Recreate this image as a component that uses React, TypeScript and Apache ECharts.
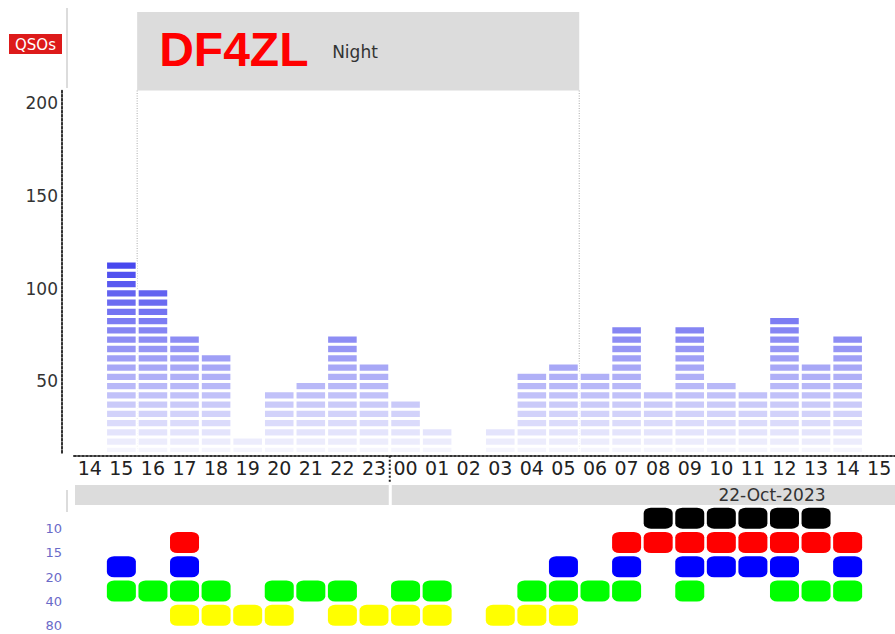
import React, { useEffect, useRef } from 'react';
import * as echarts from 'echarts';

// ---- data ----
const hours = ['14','15','16','17','18','19','20','21','22','23','00','01','02','03','04','05','06','07','08','09','10','11','12','13','14','15'];
const qsos = [0,115,100,75,65,20,45,50,75,60,40,25,0,25,55,60,55,80,45,80,50,45,85,60,75,0];
const yTicks = [50, 100, 150, 200];
const bands = ['10','15','20','40','80'];
const bandColors = ['#000000','#ff0000','#0000ff','#00ff00','#ffff00'];
// slot indices (into hours) where each band was active
const band10 = [18,19,20,21,22,23];
const band15 = [3,17,18,19,20,21,22,23,24];
const band20 = [1,3,15,17,19,20,21,22,24];
const band40 = [1,2,3,4,6,7,8,10,11,14,15,16,17,19,22,23,24];
const band80 = [3,4,5,6,8,9,10,11,13,14,15];
const bandSlots = [band10, band15, band20, band40, band80];
const nightStart = 2;   // '16'
const nightEnd = 15;    // '05'
const dayStart = 10;    // '00'
const dateLabel = '22-Oct-2023';
const callsign = 'DF4ZL';

// ---- layout ----
const W = 895, H = 634;
const GRID_LEFT = 74;
const GRID_TOP = 90.5;
const Y_MIN = 11.5, Y_MAX = 207;
const PX_PER_UNIT = 1.853;
const GRID_BOTTOM = GRID_TOP + (Y_MAX - Y_MIN) * PX_PER_UNIT;
const SEG = 5, BASE = 10;
const FONT = '"DejaVu Sans", Verdana, sans-serif';

function levelColor(k: number, n: number) {
  const t = n <= 1 ? 1 : k / (n - 1);
  const from = [245, 245, 253];
  const to = [72, 72, 238];
  const c = from.map((f, i) => Math.round(f + (to[i] - f) * t));
  return `rgb(${c[0]},${c[1]},${c[2]})`;
}

export default function App() {
  const ref = useRef<HTMLDivElement>(null);
  useEffect(() => {
    if (!ref.current) return;
    const chart = echarts.init(ref.current, null, { renderer: 'svg', width: W, height: H });
    const maxQ = Math.max(...qsos);
    const nLevels = Math.ceil((maxQ - BASE) / SEG);
    const levelSeries = [] as any[];
    for (let k = 0; k < nLevels; k++) {
      const top = BASE + SEG * (k + 1);
      levelSeries.push({
        type: 'bar',
        name: 'L' + k,
        stack: 'q',
        xAxisIndex: 0,
        yAxisIndex: 0,
        barCategoryGap: '0%',
        data: qsos.map(v => (v >= top ? (k === 0 ? top : SEG) : '-')),
        itemStyle: { color: levelColor(k, nLevels), borderColor: '#ffffff', borderWidth: 1.5 },
        silent: true,
      });
    }
    const bandSeries = bandSlots.map((slots, b) => ({
      type: 'scatter',
      xAxisIndex: 1,
      yAxisIndex: 1,
      symbol: 'roundRect',
      symbolSize: [29, 21],
      itemStyle: { color: bandColors[b], opacity: 1 },
      data: slots.map(i => [i, b]),
      silent: true,
    }));
    const dotted = { color: '#333', width: 2, type: 'dotted' as any };
    chart.setOption({
      animation: false,
      backgroundColor: '#ffffff',
      grid: [
        { left: GRID_LEFT, right: 0, top: GRID_TOP, height: GRID_BOTTOM - GRID_TOP },
        { left: GRID_LEFT, right: 0, top: 506, height: 121.5 },
      ],
      xAxis: [
        {
          type: 'category', gridIndex: 0, data: hours, boundaryGap: true, offset: 3,
          axisLine: { show: true, lineStyle: dotted },
          axisTick: { show: false },
          splitLine: { show: false },
          axisLabel: { interval: 0, fontSize: 19, color: '#222', fontFamily: FONT, margin: 3 },
        },
        { type: 'category', gridIndex: 1, data: hours, boundaryGap: true, show: false },
      ],
      yAxis: [
        {
          type: 'value', gridIndex: 0, min: Y_MIN, max: Y_MAX, offset: 12,
          axisLine: { show: true, lineStyle: dotted },
          axisTick: { show: false },
          splitLine: { show: false },
          axisLabel: { customValues: yTicks, fontSize: 17, color: '#333', fontFamily: FONT, margin: 4 },
        },
        {
          type: 'category', gridIndex: 1, data: bands, inverse: true,
          axisLine: { show: false }, axisTick: { show: false }, splitLine: { show: false },
          axisLabel: { color: '#6a6ac8', fontSize: 13, fontFamily: FONT, margin: 12, verticalAlign: 'top', padding: [4, 0, 0, 0] },
        },
      ],
      series: [...levelSeries, ...bandSeries],
    });

    const px = (i: number) => chart.convertToPixel({ xAxisIndex: 0 }, i) as number;
    const slotW = px(1) - px(0);
    const nightL = px(nightStart) - slotW / 2;
    const nightR = px(nightEnd) + slotW / 2;
    const dayX = px(dayStart) - slotW / 2;
    const lastR = px(hours.length - 1) + slotW / 2;
    const firstL = px(0) - slotW / 2;
    const axisY = GRID_BOTTOM + 3;

    chart.setOption({
      graphic: [
        { type: 'rect', z: 0, shape: { x: nightL, y: 12, width: nightR - nightL, height: GRID_TOP - 12 }, style: { fill: '#dcdcdc' } },
        { type: 'text', z: 5, x: nightL + 22, y: 49, style: { text: callsign, fill: '#ff0000', font: 'bold 48px "Liberation Sans", Arial, sans-serif', textVerticalAlign: 'middle' } },
        { type: 'text', z: 5, x: nightL + 195, y: 52, style: { text: 'Night', fill: '#333', font: '17px ' + FONT, textVerticalAlign: 'middle' } },
        { type: 'line', z: 0, shape: { x1: nightL, y1: GRID_TOP, x2: nightL, y2: GRID_BOTTOM }, style: { stroke: '#aaa', lineWidth: 1, lineDash: [1, 1.5] } },
        { type: 'line', z: 0, shape: { x1: nightR, y1: GRID_TOP, x2: nightR, y2: GRID_BOTTOM }, style: { stroke: '#aaa', lineWidth: 1, lineDash: [1, 1.5] } },
        { type: 'rect', z: 0, shape: { x: firstL + 1, y: 485, width: dayX - firstL - 2, height: 20 }, style: { fill: '#dcdcdc' } },
        { type: 'rect', z: 0, shape: { x: dayX + 2, y: 485, width: lastR - dayX - 2, height: 20 }, style: { fill: '#dcdcdc' } },
        { type: 'line', z: 5, shape: { x1: dayX, y1: axisY, x2: dayX, y2: 483 }, style: { stroke: '#222', lineWidth: 2, lineDash: [2, 2] } },
        { type: 'text', z: 5, x: lastR - 123, y: 495, style: { text: dateLabel, fill: '#333', font: '17px ' + FONT, textAlign: 'center', textVerticalAlign: 'middle' } },
        { type: 'rect', z: 5, shape: { x: 9, y: 34, width: 53, height: 20 }, style: { fill: '#dd1a1a' } },
        { type: 'text', z: 6, x: 35.5, y: 44.5, style: { text: 'QSOs', fill: '#ffffff', font: '15px ' + FONT, textAlign: 'center', textVerticalAlign: 'middle' } },
        { type: 'line', z: 0, shape: { x1: 67, y1: 8, x2: 67, y2: 88 }, style: { stroke: '#d0d0d0', lineWidth: 1.5 } },
        { type: 'line', z: 0, shape: { x1: 67, y1: 490, x2: 67, y2: 512 }, style: { stroke: '#d0d0d0', lineWidth: 1.5 } },
      ],
    });

    return () => chart.dispose();
  }, []);
  return <div ref={ref} style={{ position: 'fixed', left: 0, top: 0, width: W, height: H }} />;
}
